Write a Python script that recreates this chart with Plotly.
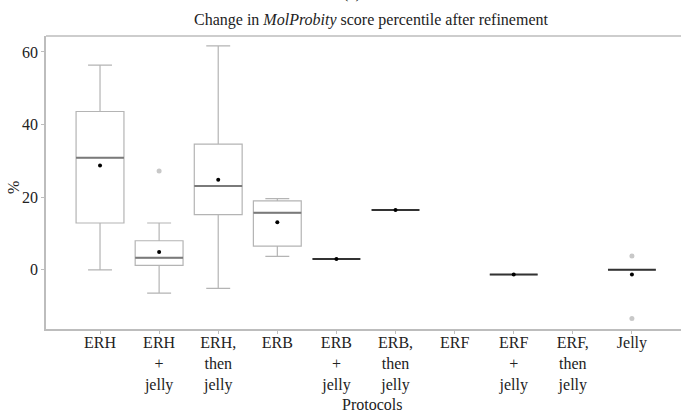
import plotly.graph_objects as go

# Protocol labels (one list entry per tick line)
protocols = [
    ["ERH"], ["ERH", "+", "jelly"], ["ERH,", "then", "jelly"],
    ["ERB"], ["ERB", "+", "jelly"], ["ERB,", "then", "jelly"],
    ["ERF"], ["ERF", "+", "jelly"], ["ERF,", "then", "jelly"],
    ["Jelly"],
]

# Box statistics (None = no data for that protocol)
lower_fence = [0.0, -6.4, -5.1, 3.7, 3.0, 16.5, None, -1.3, None, 0.0]
q1_vals     = [12.9, 1.2, 15.2, 6.5, 3.0, 16.5, None, -1.3, None, 0.0]
medians     = [30.9, 3.3, 23.1, 15.7, 3.0, 16.5, None, -1.3, None, 0.0]
q3_vals     = [43.6, 8.0, 34.6, 19.0, 3.0, 16.5, None, -1.3, None, 0.0]
upper_fence = [56.4, 12.9, 61.7, 19.6, 3.0, 16.5, None, -1.3, None, 0.0]
means       = [28.7, 4.9, 24.8, 13.1, 3.0, 16.5, None, -1.3, None, -1.3]

# Outlying points per protocol
outliers = {1: [27.2], 9: [3.8, -13.4]}

cats = [" ".join(p) for p in protocols]
ticktext = ["<br>".join(p) for p in protocols]
present = [i for i, m in enumerate(medians) if m is not None]

FONT = "Liberation Serif, Times New Roman, serif"
TXT = "#222222"
FRAME = "#bdbdbd"
BOX_W = 0.81

fig = go.Figure()

# Boxes with whiskers
fig.add_trace(go.Box(
    x=[cats[i] for i in present],
    q1=[q1_vals[i] for i in present],
    median=[medians[i] for i in present],
    q3=[q3_vals[i] for i in present],
    lowerfence=[lower_fence[i] for i in present],
    upperfence=[upper_fence[i] for i in present],
    width=BOX_W, whiskerwidth=0.5,
    line=dict(color="#b4b4b4", width=1.2),
    fillcolor="white", boxpoints=False, hoverinfo="skip", showlegend=False,
))

# Median lines: grey for spread boxes, dark where the box collapses to one value
for collapsed, colour in [(False, "#7a7a7a"), (True, "#333333")]:
    idx = [i for i in present if (q1_vals[i] == q3_vals[i]) == collapsed]
    if not idx:
        continue
    fig.add_trace(go.Box(
        x=[cats[i] for i in idx],
        q1=[medians[i] for i in idx],
        median=[medians[i] for i in idx],
        q3=[medians[i] for i in idx],
        lowerfence=[medians[i] for i in idx],
        upperfence=[medians[i] for i in idx],
        width=BOX_W, whiskerwidth=0,
        line=dict(color=colour, width=2),
        fillcolor="rgba(0,0,0,0)", boxpoints=False, hoverinfo="skip",
        showlegend=False,
    ))

# Outliers
ox, oy = [], []
for i, vals in outliers.items():
    for v in vals:
        ox.append(cats[i])
        oy.append(v)
fig.add_trace(go.Scatter(
    x=ox, y=oy, mode="markers",
    marker=dict(color="#c8c8c8", size=5), showlegend=False,
))

# Means
fig.add_trace(go.Scatter(
    x=[cats[i] for i in present], y=[means[i] for i in present],
    mode="markers", marker=dict(color="black", size=4), showlegend=False,
))

L_MARGIN, R_MARGIN, T_MARGIN, B_MARGIN = 46, 0, 36, 85
plot_w = 681 - L_MARGIN - R_MARGIN
plot_h = 414 - T_MARGIN - B_MARGIN
x_lo = -0.914
x_hi = x_lo + plot_w / 59.1


def px_x(px):
    return (px - L_MARGIN) / plot_w


def px_y(py):
    return (T_MARGIN + plot_h - py) / plot_h


fig.update_layout(
    template="none",
    width=681, height=414,
    margin=dict(l=L_MARGIN, r=R_MARGIN, t=T_MARGIN, b=B_MARGIN, autoexpand=False),
    paper_bgcolor="white", plot_bgcolor="white",
    font=dict(family=FONT, size=16, color=TXT),
    boxmode="overlay",
    showlegend=False,
    title=dict(
        text="Change in <i>MolProbity</i> score percentile after refinement",
        x=371 / 681, xref="container", xanchor="center",
        y=1 - 19 / 414, yref="container", yanchor="middle",
        font=dict(family=FONT, size=16, color=TXT),
    ),
    xaxis=dict(
        type="category", categoryorder="array", categoryarray=cats,
        tickvals=cats, ticktext=ticktext,
        range=[x_lo, x_hi], automargin=False,
        showline=True, linecolor=FRAME, linewidth=1.5, mirror=False,
        ticks="outside", ticklen=3, tickcolor=FRAME,
        ticklabelstandoff=-5,
        showgrid=False, zeroline=False,
    ),
    yaxis=dict(
        range=[-16.3, 64.4], automargin=False,
        tickvals=[0, 20, 40, 60],
        showline=True, linecolor=FRAME, linewidth=1.5, mirror=False,
        ticks="outside", ticklen=3, tickcolor=FRAME,
        showgrid=False, zeroline=False,
    ),
    shapes=[
        # top border of the plotting area
        dict(
            type="line", xref="paper", yref="paper", x0=0, x1=1, y0=1, y1=1,
            line=dict(color=FRAME, width=1.5), layer="above",
        ),
    ],
    annotations=[
        # blank strip keeping the right-hand side of the plotting area open
        dict(
            text=" ", xref="paper", yref="paper",
            x=px_x(677), y=px_y(38), xanchor="left", yanchor="top",
            width=14, height=289, bgcolor="white", borderwidth=0,
            borderpad=0, showarrow=False,
        ),
        dict(
            text="%", xref="paper", yref="paper",
            x=px_x(14), y=px_y(188),
            xanchor="center", yanchor="middle", textangle=-90,
            showarrow=False, font=dict(family=FONT, size=16, color=TXT),
        ),
        dict(
            text="Protocols", xref="paper", yref="paper",
            x=px_x(372), y=px_y(405),
            xanchor="center", yanchor="middle",
            showarrow=False, font=dict(family=FONT, size=16, color=TXT),
        ),
        dict(
            text="(a)", xref="paper", yref="paper", x=px_x(352),
            y=1.11, xanchor="center", yanchor="bottom", showarrow=False,
            font=dict(family=FONT, size=16, color=TXT),
        ),
    ],
)

fig.write_html("out.html")
